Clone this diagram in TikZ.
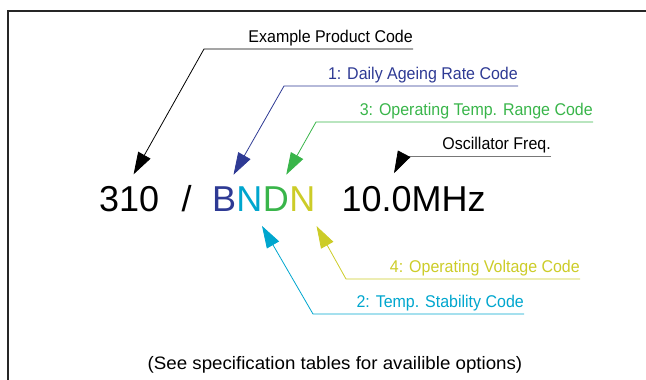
\documentclass[tikz,border=0pt]{standalone}
\usepackage{fontspec}
\setmainfont{Liberation Sans}
\newfontfamily\widefont[FakeStretch=1.04]{Liberation Sans}
\newfontfamily\narrowfont[FakeStretch=0.94]{Liberation Sans}
\usetikzlibrary{arrows.meta}
\usetikzlibrary{positioning}
\definecolor{agebl}{RGB}{46,58,148}
\definecolor{stabcy}{RGB}{0,166,206}
\definecolor{tempgr}{RGB}{57,181,74}
\definecolor{voltye}{RGB}{204,204,40}
\definecolor{freqgr}{RGB}{120,120,120}

\begin{document}
\begin{tikzpicture}[x=1pt, y=-1pt,
        lbl/.style={anchor=base east, inner sep=0pt, font=\narrowfont\fontsize{17}{20}\selectfont},
        big/.style={inner sep=0pt, font=\fontsize{36}{43}\selectfont},
        lead/.style={line width=0.8pt, -{Triangle[length=22pt,width=14pt]}}]
        \useasboundingbox (0,0) rectangle (646,380);
        \draw[line width=1.5pt, black!85] (8,380) -- (8,11) -- (646,11);

        % the product code
        \node[big, anchor=base west] (n310) at (99,211) {310};
        \node[big, base right=22pt of n310] (nslash) {/};
        \node[big, base right=20pt of nslash, text=agebl] (lB) {B};
        \node[big, base right=0pt of lB, text=stabcy] (lN) {N};
        \node[big, base right=0pt of lN, text=tempgr] (lD) {D};
        \node[big, base right=0pt of lD, text=voltye] (lN2) {N};
        \node[big, base right=26pt of lN2] (n10) {10.0MHz};

        % labels
        \node[lbl] (lblprod) at (413,42) {Example Product Code};
        \node[lbl, text=agebl] (lblage) at (518,79) {1: Daily Ageing Rate Code};
        \node[lbl, text=tempgr] (lbltemp) at (593,115) {3: Operating Temp. Range Code};
        \node[lbl] (lblfreq) at (551,149) {Oscillator Freq.};
        \node[lbl, text=voltye] (lblvolt) at (580,272) {4: Operating Voltage Code};
        \node[lbl, text=stabcy] (lblstab) at (524,307) {2: Temp. Stability Code};
        \node[inner sep=0pt, font=\widefont\fontsize{18}{21}\selectfont] (note) at (335,365) {(See specification tables for availible options)};

        \coordinate (kprod) at (204,49);
        \coordinate (kage) at (284,86);
        \coordinate (ktemp) at (316,122);
        \coordinate (kfreq) at (403,156);
        \coordinate (kvolt) at (346,279);
        \coordinate (kstab) at (313,314);

        % leaders
        \draw[lead, shorten >=13pt] (kprod -| lblprod.east) -- (kprod) -- ([xshift=-2pt]n310.north);
        \draw[lead, agebl, shorten >=13pt] (kage -| lblage.east) -- (kage) -- ([xshift=3pt]lB.north);
        \draw[lead, tempgr, shorten >=13pt] (ktemp -| lbltemp.east) -- (ktemp) -- ([xshift=4pt]lD.north);
        \draw[line width=0.8pt, freqgr] (kfreq -| lblfreq.east) -- (kfreq);
        \draw[lead, shorten >=14pt] (kfreq) -- ([xshift=46pt]n10.north west);
        \draw[lead, stabcy, shorten >=17pt] (kstab -| lblstab.east) -- (kstab) -- ([xshift=4pt]lN.south);
        \draw[lead, voltye, shorten >=17pt] (kvolt -| lblvolt.east) -- (kvolt) -- ([xshift=6pt]lN2.south);
\end{tikzpicture}
\end{document}
